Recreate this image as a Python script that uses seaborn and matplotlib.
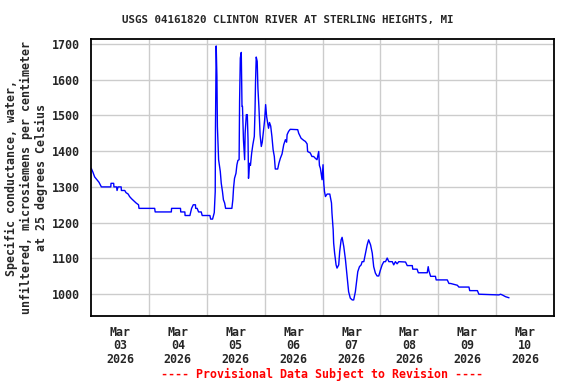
# USGS specific conductance plot, Clinton River
import pandas as pd
import matplotlib.pyplot as plt
import seaborn as sns

# hours after 2026-03-03 00:00
hours = [0.1, 0.8, 1.5, 2.2, 3.3, 4.3, 8.2, 8.3, 9.4, 9.5, 10.6, 10.8, 11.2, 12.5, 12.6,
         14.0, 14.5, 15.4, 16.0, 16.8, 17.6, 18.7, 19.7, 19.9, 26.4, 26.6, 33.3, 33.4,
         37.1, 37.2, 38.9, 39.0, 41.0, 41.7, 42.4, 43.3, 43.4, 44.0, 44.6, 45.7, 46.1,
         49.3, 49.6, 50.4, 51.1, 51.5, 51.6, 51.9, 52.2, 52.4, 52.9, 53.6, 54.0, 54.5,
         54.9, 55.4, 55.8, 58.4, 58.8, 59.1, 59.5, 60.1, 60.5, 60.9, 61.4, 61.6, 61.9,
         62.3, 62.6, 62.8, 63.2, 63.7, 63.9, 64.4, 64.8, 65.1, 65.3, 65.7, 66.1, 66.6,
         67.1, 67.7, 68.0, 68.2, 68.5, 68.9, 69.2, 69.6, 70.1, 70.6, 71.0, 71.4, 72.0,
         72.4, 72.8, 73.2, 73.6, 74.0, 74.5, 75.0, 75.5, 76.0, 76.4, 77.4, 77.9, 78.5,
         79.2, 79.9, 80.6, 81.1, 81.3, 81.9, 82.6, 85.7, 86.1, 87.1, 88.2, 88.9, 89.6,
         89.8, 90.9, 91.6, 92.3, 93.0, 93.7, 94.4, 94.7, 95.1, 95.8, 96.2, 96.5, 96.8,
         97.2, 97.9, 99.0, 99.7, 99.9, 100.4, 100.6, 101.0, 101.6, 102.0, 102.7, 103.1,
         103.7, 104.1, 104.8, 105.5, 106.2, 106.8, 107.5, 108.3, 108.9, 109.6, 110.0,
         110.6, 111.3, 112.0, 112.4, 113.1, 113.8, 114.5, 115.1, 115.9, 116.6, 117.2,
         117.9, 118.6, 119.3, 120.0, 120.7, 121.4, 122.1, 122.8, 123.5, 124.9, 125.5,
         126.2, 126.9, 127.6, 130.4, 131.1, 133.2, 133.4, 135.2, 135.7, 139.4, 139.8,
         140.1, 140.8, 142.8, 143.1, 147.7, 148.4, 149.1, 151.9, 152.5, 156.7, 157.0,
         160.2, 160.8, 169.1, 169.8, 170.5, 171.9, 173.3]

conductance = [1352, 1341, 1328, 1322, 1313, 1300, 1300, 1310, 1310, 1300, 1300, 1290, 1300, 1300, 1290,
               1290, 1284, 1280, 1273, 1267, 1262, 1255, 1250, 1240, 1240, 1230, 1230, 1240,
               1240, 1230, 1230, 1220, 1220, 1240, 1250, 1250, 1240, 1240, 1230, 1230, 1220,
               1220, 1210, 1210, 1228, 1287, 1464, 1694, 1609, 1469, 1376, 1343, 1310, 1287,
               1264, 1255, 1240, 1240, 1264, 1297, 1324, 1338, 1362, 1374, 1376, 1539, 1660,
               1676, 1525, 1525, 1432, 1376, 1450, 1502, 1502, 1432, 1324, 1366, 1360, 1394,
               1418, 1441, 1515, 1590, 1663, 1651, 1576, 1525, 1446, 1413, 1425, 1450, 1488,
               1530, 1497, 1480, 1464, 1480, 1470, 1441, 1404, 1385, 1350, 1350, 1366, 1380,
               1392, 1418, 1432, 1425, 1446, 1455, 1461, 1460, 1450, 1436, 1430, 1427, 1420,
               1399, 1395, 1385, 1385, 1380, 1376, 1399, 1360, 1352, 1320, 1362, 1310, 1287,
               1273, 1280, 1280, 1255, 1227, 1180, 1143, 1115, 1082, 1073, 1082, 1119,
               1152, 1159, 1133, 1096, 1049, 1007, 989, 984, 984, 1007, 1030,
               1063, 1077, 1082, 1091, 1091, 1115, 1138, 1152, 1138, 1115, 1077,
               1059, 1051, 1051, 1068, 1082, 1091, 1091, 1101, 1091, 1091, 1082,
               1091, 1085, 1091, 1090, 1080, 1080, 1070, 1070, 1060, 1060, 1077,
               1065, 1050, 1050, 1040, 1040, 1030, 1030, 1025, 1020, 1020, 1010,
               1010, 1000, 998, 1000, 998, 993, 990]

day_labels = ["Mar\n03\n2026", "Mar\n04\n2026", "Mar\n05\n2026", "Mar\n06\n2026",
              "Mar\n07\n2026", "Mar\n08\n2026", "Mar\n09\n2026", "Mar\n10\n2026"]
y_ticks = [1000, 1100, 1200, 1300, 1400, 1500, 1600, 1700]

start = pd.Timestamp("2026-03-03")
df = pd.DataFrame({
    "time": start + pd.to_timedelta(hours, unit="h"),
    "value": conductance,
})

sns.set_theme(style="white")
plt.rcParams['font.family'] = ['DejaVu Sans Mono']
plt.rcParams['font.weight'] = 'bold'

fig = plt.figure(figsize=(5.76, 3.84), dpi=100)
ax = fig.add_axes([0.158, 0.177, 0.804, 0.721])

sns.lineplot(data=df, x="time", y="value", color="#0000FF", linewidth=1.0,
             estimator=None, ax=ax)

# x axis: labels at noon, grid at midnight
noons = [start + pd.Timedelta(days=i, hours=12) for i in range(len(day_labels))]
mids = [start + pd.Timedelta(days=i) for i in range(1, 8)]
ax.set_xlim(start, start + pd.Timedelta(days=8))
ax.set_xticks(noons)
ax.set_xticklabels(day_labels, fontsize=8.4, fontweight='bold', linespacing=1.05)
ax.set_xticks(mids, minor=True)
ax.tick_params(axis='x', which='both', length=0, pad=7)

ax.set_ylim(939, 1713)
ax.set_yticks(y_ticks)
ax.set_yticklabels([str(v) for v in y_ticks], fontsize=8.4, fontweight='bold')
ax.tick_params(axis='y', which='major', direction='in', length=3, pad=8)

ax.grid(True, which='minor', axis='x', color='#CCCCCC', linewidth=1.0)
ax.grid(True, which='major', axis='y', color='#CCCCCC', linewidth=1.0)
ax.set_axisbelow(True)

for s in ax.spines.values():
    s.set_color('black')
    s.set_linewidth(1.3)

ax.set_xlabel("")
ax.set_ylabel("Specific conductance, water,\nunfiltered, microsiemens per centimeter\nat 25 degrees Celsius",
              fontsize=8.4, fontweight='bold', linespacing=1.2, labelpad=3)

fig.text(0.5, 0.948, "USGS 04161820 CLINTON RIVER AT STERLING HEIGHTS, MI",
         ha='center', va='center', fontsize=7.8, fontweight='bold')
fig.text(0.559, 0.026, "---- Provisional Data Subject to Revision ----",
         ha='center', va='center', fontsize=8.4, fontweight='bold', color='#FF0000')

fig.savefig("out.png", dpi=100)
